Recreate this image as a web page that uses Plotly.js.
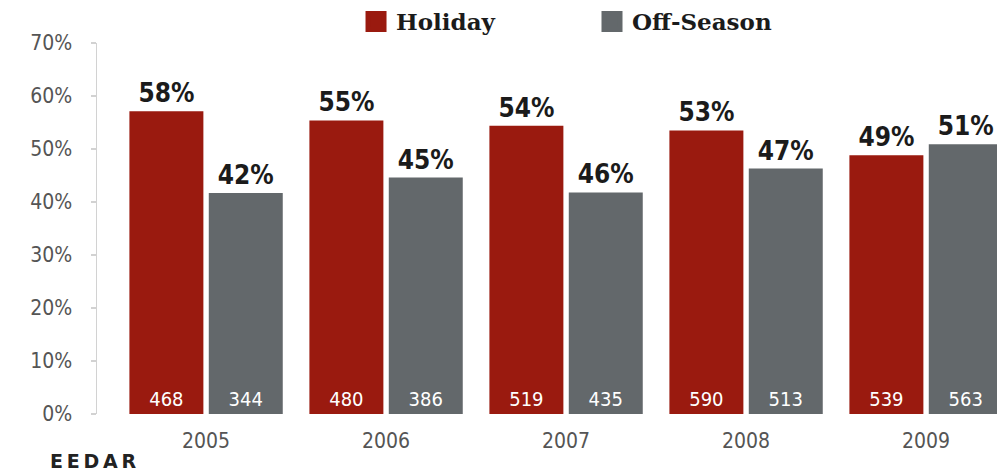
<!DOCTYPE html>
<html>
<head>
<meta charset="utf-8">
<script src="https://cdn.plot.ly/plotly-3.0.1.min.js"></script>
<style>
  html, body { margin: 0; padding: 0; background: #ffffff; }
  #chart { width: 997px; height: 476px; }
</style>
</head>
<body>
<div id="chart"></div>
<script>
// ---- data ----
const years = ['2005', '2006', '2007', '2008', '2009'];
const holidayShare = [57.1, 55.4, 54.4, 53.5, 48.8];      // bar heights (%)
const offSeasonShare = [41.7, 44.6, 41.8, 46.3, 50.9];    // bar heights (%)
const holidayLabels = ['58%', '55%', '54%', '53%', '49%'];
const offSeasonLabels = ['42%', '45%', '46%', '47%', '51%'];
const holidayCounts = [468, 480, 519, 590, 539];
const offSeasonCounts = [344, 386, 435, 513, 563];
const seriesNames = ['Holiday', 'Off-Season'];
const brand = 'E\u2009E\u2009D\u2009A\u2009R';

// ---- styles ----
const RED = '#9a1a0f';
const GREY = '#63686b';
const NARROW = 'DejaVu Sans Condensed, Liberation Sans Narrow, sans-serif';
const BAR_W = 0.411;
const OFF_H = -0.426;
const OFF_O = 0.015;

function countTrace(y, counts, color, offset) {
  return {
    type: 'bar', x: years, y: y, width: BAR_W, offset: offset,
    marker: { color: color, line: { width: 0 } },
    text: counts.map(String), textposition: 'inside', insidetextanchor: 'start',
    textangle: 0, constraintext: 'none',
    insidetextfont: { family: NARROW, size: 20, color: '#ffffff' },
    showlegend: false, hoverinfo: 'skip', cliponaxis: true
  };
}
function labelTrace(y, labels, offset) {
  return {
    type: 'bar', x: years, y: y, width: BAR_W, offset: offset,
    marker: { color: 'rgba(0,0,0,0)', line: { width: 0 } },
    text: labels, textposition: 'outside', textangle: 0, constraintext: 'none',
    outsidetextfont: { family: NARROW, size: 26, color: '#1b1b1b', weight: 'bold' },
    showlegend: false, hoverinfo: 'skip', cliponaxis: false
  };
}
function legendTrace(name, color, legendId) {
  return {
    type: 'scatter', mode: 'markers', x: [null], y: [null], name: name,
    legend: legendId,
    marker: { symbol: 'square', size: 16, color: color, line: { width: 5, color: color } },
    hoverinfo: 'skip'
  };
}

const data = [
  countTrace(holidayShare, holidayCounts, RED, OFF_H),
  countTrace(offSeasonShare, offSeasonCounts, GREY, OFF_O),
  labelTrace(holidayShare, holidayLabels, OFF_H),
  labelTrace(offSeasonShare, offSeasonLabels, OFF_O),
  legendTrace(seriesNames[0], RED, 'legend'),
  legendTrace(seriesNames[1], GREY, 'legend2')
];

const legendFont = { family: 'DejaVu Serif, serif', size: 23, color: '#1b1b1b', weight: 'bold' };

const layout = {
  width: 997, height: 476,
  margin: { l: 97, r: 0, t: 42, b: 62 },
  paper_bgcolor: '#ffffff', plot_bgcolor: '#ffffff',
  barmode: 'overlay',
  showlegend: true,
  legend: { x: 0.2878, xanchor: 'left', y: 1.058, yanchor: 'middle', orientation: 'h',
            font: legendFont, bgcolor: 'rgba(0,0,0,0)', borderwidth: 0 },
  legend2: { x: 0.55, xanchor: 'left', y: 1.058, yanchor: 'middle', orientation: 'h',
             font: legendFont, bgcolor: 'rgba(0,0,0,0)', borderwidth: 0 },
  xaxis: {
    type: 'category', categoryorder: 'array', categoryarray: years,
    range: [-0.606, 4.394], showline: false, showgrid: false, zeroline: false,
    ticks: '', ticklabelstandoff: 12,
    tickfont: { family: NARROW, size: 21, color: '#555555' }
  },
  yaxis: {
    range: [0, 70], dtick: 10, ticksuffix: '%',
    showline: true, linecolor: '#d2d2d2', linewidth: 1.5,
    ticks: 'outside', ticklen: 5, tickcolor: '#d2d2d2', tickwidth: 1.5,
    ticklabelstandoff: 14,
    showgrid: false, zeroline: false,
    tickfont: { family: NARROW, size: 21, color: '#555555' }
  },
  annotations: [{
    xref: 'paper', yref: 'paper', x: -0.0544, y: -0.1277, xanchor: 'left', yanchor: 'middle',
    text: brand, showarrow: false,
    font: { family: 'DejaVu Sans, sans-serif', size: 19, color: '#222222', weight: 'bold' }
  }]
};

Plotly.newPlot('chart', data, layout, { displayModeBar: false, staticPlot: true });
</script>
</body>
</html>
